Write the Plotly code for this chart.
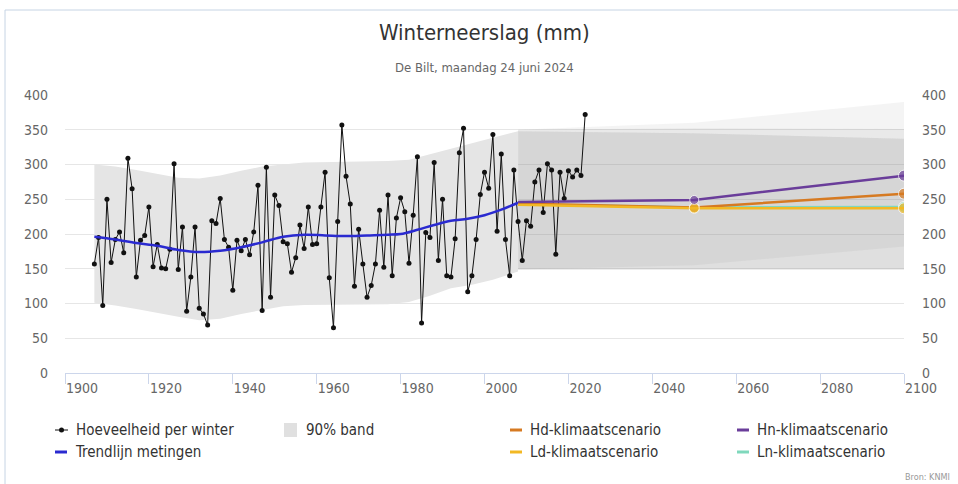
import plotly.graph_objects as go

# ---------------- data ----------------
obs_years = list(range(1907, 2025))
obs_values = [
    157, 195, 97, 250, 159, 192, 203, 173, 309, 265,   # 1907-1916
    138, 191, 198, 239, 153, 185, 151, 150, 178, 301,  # 1917-1926
    149, 210, 89, 138, 210, 93, 85, 69, 219, 215,      # 1927-1936
    251, 192, 181, 119, 191, 176, 192, 170, 203, 270,  # 1937-1946
    90, 296, 109, 256, 241, 189, 186, 145, 166, 213,   # 1947-1956
    179, 239, 185, 186, 239, 289, 137, 65, 218, 357,   # 1957-1966
    283, 243, 125, 207, 157, 109, 126, 157, 234, 152,  # 1967-1976
    256, 140, 223, 252, 232, 158, 227, 311, 72, 202,   # 1977-1986
    195, 303, 162, 250, 140, 138, 193, 317, 352, 117,  # 1987-1996
    140, 192, 257, 289, 266, 343, 204, 315, 192, 140,  # 1997-2006
    292, 218, 162, 219, 211, 275, 292, 231, 301, 292,  # 2007-2016
    171, 289, 251, 291, 282, 292, 284, 372,            # 2017-2024
]

trend_years = [1907, 1912, 1917, 1922, 1927, 1932, 1937, 1942, 1947, 1952, 1957,
               1962, 1967, 1972, 1977, 1980, 1984, 1988, 1992, 1996, 2000, 2004, 2008]
trend_values = [196, 192, 187, 183, 177, 174, 176, 181, 188, 196, 199,
                198, 197, 198, 199, 200, 206, 213, 219, 222, 227, 235, 245]

band_years = [1907, 1912, 1917, 1922, 1927, 1932, 1937, 1942, 1947, 1952, 1957,
              1967, 1977, 1982, 1987, 1992, 1997, 2002, 2008]
band_upper = [300, 297, 292, 286, 281, 280, 284, 291, 297, 300, 303,
              304, 305, 307, 315, 322, 330, 338, 348]
band_lower = [101, 97, 92, 87, 81, 76, 78, 85, 91, 96, 98,
              98, 99, 102, 111, 122, 127, 134, 146]

scen_years = [2008, 2050, 2100]
scen_names = ["Ln-klimaatscenario", "Ld-klimaatscenario", "Hd-klimaatscenario", "Hn-klimaatscenario"]
scen_values = {
    "Ln-klimaatscenario": [243, 238, 239],
    "Ld-klimaatscenario": [242, 237, 237],
    "Hd-klimaatscenario": [244, 238, 258],
    "Hn-klimaatscenario": [246, 249, 284],
}
scen_upper = {
    "Ln-klimaatscenario": [348, 345, 337],
    "Ld-klimaatscenario": [348, 345, 337],
    "Hd-klimaatscenario": [350, 352, 351],
    "Hn-klimaatscenario": [350, 360, 390],
}
scen_lower = {
    "Ln-klimaatscenario": [149, 149, 149],
    "Ld-klimaatscenario": [149, 149, 149],
    "Hd-klimaatscenario": [149, 149, 149],
    "Hn-klimaatscenario": [149, 155, 182],
}

title_text = "Winterneerslag (mm)"
subtitle_text = "De Bilt, maandag 24 juni 2024"
source_text = "Bron: KNMI"

# ---------------- styles ----------------
FONT = "DejaVu Sans Condensed, Liberation Sans Narrow, sans-serif"
scen_colors = {
    "Hd-klimaatscenario": "#d67a22",
    "Hn-klimaatscenario": "#6a3d9a",
    "Ld-klimaatscenario": "#f2b824",
    "Ln-klimaatscenario": "#7fd8bc",
}
W, H = 958, 484
L, R, T, B = 65, 904, 95, 373  # plot area in px


def px(x):
    return (x - L) / (R - L)


def py(y):
    return (B - y) / (B - T)


fig = go.Figure()

# observed 90% band
fig.add_trace(go.Scatter(
    x=band_years + band_years[::-1], y=band_upper + band_lower[::-1],
    fill="toself", fillcolor="#e5e5e5", line=dict(width=0),
    mode="lines", hoverinfo="skip", showlegend=False))

# scenario bands
for name in scen_names:
    fig.add_trace(go.Scatter(
        x=scen_years + scen_years[::-1],
        y=scen_upper[name] + scen_lower[name][::-1],
        fill="toself", fillcolor="rgba(110,110,110,0.08)", line=dict(width=0),
        mode="lines", hoverinfo="skip", showlegend=False))

# observations
fig.add_trace(go.Scatter(
    x=obs_years, y=obs_values, mode="lines+markers",
    line=dict(color="#111111", width=1),
    marker=dict(color="#111111", size=5),
    name="Hoeveelheid per winter", showlegend=False))

# trend
fig.add_trace(go.Scatter(
    x=trend_years, y=trend_values, mode="lines",
    line=dict(color="#2a2ad0", width=2.5, shape="spline", smoothing=1.0),
    name="Trendlijn metingen", showlegend=False))

# scenarios
scen_marker_sizes = {
    "Ln-klimaatscenario": [0, 10, 11],
    "Ld-klimaatscenario": [0, 10, 11],
    "Hd-klimaatscenario": [0, 10, 11],
    "Hn-klimaatscenario": [0, 9, 11],
}
for name in ["Ln-klimaatscenario", "Hd-klimaatscenario", "Ld-klimaatscenario", "Hn-klimaatscenario"]:
    fig.add_trace(go.Scatter(
        x=scen_years, y=scen_values[name], mode="lines+markers",
        line=dict(color=scen_colors[name], width=2.5),
        marker=dict(color=scen_colors[name], size=scen_marker_sizes[name]),
        name=name, showlegend=False))

# invisible trace for right axis
fig.add_trace(go.Scatter(x=[obs_years[0]], y=[obs_values[0]], yaxis="y2",
                         mode="markers", marker=dict(opacity=0), hoverinfo="skip",
                         showlegend=False))

axis_font = dict(family=FONT, size=14, color="#666666")
fig.update_layout(
    width=W, height=H,
    margin=dict(l=L, r=W - R, t=T, b=H - B, autoexpand=False),
    paper_bgcolor="white", plot_bgcolor="white",
    font=dict(family=FONT),
    xaxis=dict(range=[1900, 2100], dtick=20, tick0=1900, showgrid=False,
               showline=True, linecolor="#ccd6eb", linewidth=1,
               ticks="outside", ticklen=10, tickcolor="#ccd6eb",
               ticklabelposition="outside right", ticklabelstandoff=2,
               tickfont=axis_font, zeroline=False, fixedrange=True),
    yaxis=dict(range=[0, 400], dtick=50, showgrid=True, gridcolor="#e6e6e6",
               zeroline=False, showline=False, tickfont=axis_font,
               ticklabelstandoff=16, fixedrange=True),
    yaxis2=dict(range=[0, 400], dtick=50, overlaying="y", side="right",
                showgrid=False, zeroline=False, showline=False,
                tickfont=axis_font, ticklabelstandoff=17, fixedrange=True),
)

shapes = []
annotations = []

# chart border
shapes.append(dict(type="rect", xref="paper", yref="paper",
                   x0=px(5), x1=px(975), y0=py(10), y1=py(500),
                   line=dict(color="#c6d4e4", width=1), fillcolor="rgba(0,0,0,0)",
                   layer="below"))

# title / subtitle
annotations.append(dict(text=title_text, xref="paper", yref="paper",
                        x=0.5, y=py(32), xanchor="center", yanchor="middle",
                        showarrow=False, font=dict(family=FONT, size=22, color="#333333")))
annotations.append(dict(text=subtitle_text, xref="paper", yref="paper",
                        x=0.5, y=py(68), xanchor="center", yanchor="middle",
                        showarrow=False, font=dict(family=FONT, size=13, color="#666666")))

# custom legend
legend_items = [
    ("Hoeveelheid per winter", 55, 430, "obs", "#111111"),
    ("90% band", 284, 430, "band", "#e0e0e0"),
    ("Hd-klimaatscenario", 510, 430, "line", scen_colors["Hd-klimaatscenario"]),
    ("Hn-klimaatscenario", 737, 430, "line", scen_colors["Hn-klimaatscenario"]),
    ("Trendlijn metingen", 55, 452, "line", "#2a2ad0"),
    ("Ld-klimaatscenario", 510, 452, "line", scen_colors["Ld-klimaatscenario"]),
    ("Ln-klimaatscenario", 737, 452, "line", scen_colors["Ln-klimaatscenario"]),
]
for label, x0, y0, kind, col in legend_items:
    if kind == "obs":
        shapes.append(dict(type="line", xref="paper", yref="paper",
                           x0=px(x0), x1=px(x0 + 13), y0=py(y0), y1=py(y0),
                           line=dict(color=col, width=1)))
        shapes.append(dict(type="circle", xref="paper", yref="paper",
                           x0=px(x0 + 4), x1=px(x0 + 9), y0=py(y0 - 2.5), y1=py(y0 + 2.5),
                           line=dict(color=col, width=0), fillcolor=col))
        tx = x0 + 19
    elif kind == "band":
        shapes.append(dict(type="rect", xref="paper", yref="paper",
                           x0=px(x0), x1=px(x0 + 13), y0=py(y0 - 7), y1=py(y0 + 7),
                           line=dict(width=0), fillcolor=col))
        tx = x0 + 20
    else:
        shapes.append(dict(type="line", xref="paper", yref="paper",
                           x0=px(x0), x1=px(x0 + 12), y0=py(y0), y1=py(y0),
                           line=dict(color=col, width=3)))
        tx = x0 + 18
    annotations.append(dict(text=label, xref="paper", yref="paper",
                            x=px(tx), y=py(y0), xanchor="left", yanchor="middle",
                            showarrow=False, font=dict(family=FONT, size=15, color="#333333")))

annotations.append(dict(text=source_text, xref="paper", yref="paper",
                        x=px(952), y=py(477), xanchor="right", yanchor="middle",
                        showarrow=False, font=dict(family=FONT, size=9, color="#999999")))

fig.update_layout(shapes=shapes, annotations=annotations)
fig.write_html("out.html", config={"displayModeBar": False},
               post_script="document.body.style.margin='0px';document.body.style.padding='0px';")
